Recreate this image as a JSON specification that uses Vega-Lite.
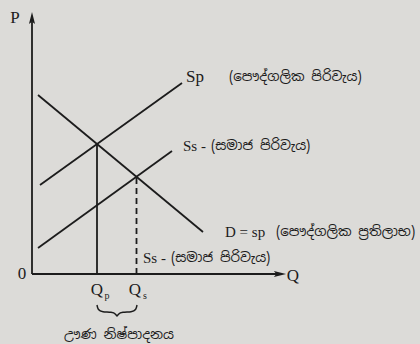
{
  "$schema": "https://vega.github.io/schema/vega-lite/v6.json",
  "width": 420,
  "height": 344,
  "padding": 0,
  "autosize": {"type": "fit", "contains": "padding"},
  "background": "#dcdbd8",
  "config": {"view": {"stroke": null}},
  "datasets": {
    "curves": [
      {"id": "Sp", "ord": 1, "x": 8, "y": 89},
      {"id": "Sp", "ord": 2, "x": 150, "y": 191},
      {"id": "D", "ord": 1, "x": 6, "y": 179},
      {"id": "D", "ord": 2, "x": 171, "y": 42},
      {"id": "Ss", "ord": 1, "x": 6, "y": 26},
      {"id": "Ss", "ord": 2, "x": 140, "y": 123},
      {"id": "Qp", "ord": 1, "x": 65, "y": 0},
      {"id": "Qp", "ord": 2, "x": 65, "y": 130},
      {"id": "Yaxis", "ord": 1, "x": 0, "y": 0},
      {"id": "Yaxis", "ord": 2, "x": 0, "y": 252},
      {"id": "Xaxis", "ord": 1, "x": 0, "y": 0},
      {"id": "Xaxis", "ord": 2, "x": 248, "y": 0}
    ],
    "dashed": [
      {"id": "Qs", "ord": 1, "x": 104.5, "y": 0},
      {"id": "Qs", "ord": 2, "x": 104.5, "y": 97}
    ],
    "brace": [
      {"ord": 1, "x": 65, "y": -31},
      {"ord": 2, "x": 66, "y": -36},
      {"ord": 3, "x": 70, "y": -38},
      {"ord": 4, "x": 80, "y": -38},
      {"ord": 5, "x": 84, "y": -40},
      {"ord": 6, "x": 85, "y": -43},
      {"ord": 7, "x": 86, "y": -40},
      {"ord": 8, "x": 90, "y": -38},
      {"ord": 9, "x": 100, "y": -38},
      {"ord": 10, "x": 104, "y": -36},
      {"ord": 11, "x": 105, "y": -31}
    ],
    "arrowUp": [{"x": 0, "y": 256}],
    "arrowRight": [{"x": 248, "y": 0}],
    "bigLabels": [
      {"label": "P", "x": -17, "y": 256},
      {"label": "0", "x": -10, "y": 0},
      {"label": "Q", "x": 261, "y": -2},
      {"label": "Sp", "x": 163, "y": 197},
      {"label": "Q", "x": 65, "y": -16},
      {"label": "Q", "x": 103, "y": -16}
    ],
    "subs": [
      {"label": "p", "x": 75, "y": -22},
      {"label": "s", "x": 113, "y": -22}
    ],
    "midLabels": [
      {"label": "Ss -", "x": 151, "y": 128},
      {"label": "D = sp", "x": 193, "y": 42},
      {"label": "Ss -", "x": 111, "y": 16}
    ],
    "sinhala": [
      {"label": "(පෞද්ගලික පිරිවැය)", "x": 197, "y": 197},
      {"label": "(සමාජ පිරිවැය)", "x": 179, "y": 128},
      {"label": "(පෞද්ගලික ප්‍රතිලාභ)", "x": 244, "y": 42},
      {"label": "(සමාජ පිරිවැය)", "x": 139, "y": 16},
      {"label": "ඌණ නිෂ්පාදනය", "x": 32, "y": -61}
    ]
  },
  "encoding": {
    "x": {"field": "x", "type": "quantitative", "scale": {"domain": [-32, 388], "nice": false, "zero": false}, "axis": null},
    "y": {"field": "y", "type": "quantitative", "scale": {"domain": [-70, 274], "nice": false, "zero": false}, "axis": null}
  },
  "layer": [
    {
      "data": {"name": "curves"},
      "mark": {"type": "line", "color": "#1c1c1c", "strokeWidth": 1.8},
      "encoding": {"detail": {"field": "id"}, "order": {"field": "ord"}}
    },
    {
      "data": {"name": "dashed"},
      "mark": {"type": "line", "color": "#1c1c1c", "strokeWidth": 1.8, "strokeDash": [6, 4]},
      "encoding": {"detail": {"field": "id"}, "order": {"field": "ord"}}
    },
    {
      "data": {"name": "brace"},
      "mark": {"type": "line", "color": "#1c1c1c", "strokeWidth": 1.5, "interpolate": "basis"},
      "encoding": {"order": {"field": "ord"}}
    },
    {
      "data": {"name": "arrowUp"},
      "mark": {"type": "point", "shape": "M-0.5,1L0,-1L0.5,1L0,0.6Z", "filled": true, "color": "#1c1c1c", "size": 150, "opacity": 1}
    },
    {
      "data": {"name": "arrowRight"},
      "mark": {"type": "point", "shape": "M-1,-0.5L1,0L-1,0.5L-0.6,0Z", "filled": true, "color": "#1c1c1c", "size": 150, "opacity": 1}
    },
    {
      "data": {"name": "bigLabels"},
      "mark": {"type": "text", "font": "Liberation Serif", "fontSize": 17, "color": "#1c1c1c", "baseline": "middle", "align": "center"},
      "encoding": {"text": {"field": "label"}}
    },
    {
      "data": {"name": "subs"},
      "mark": {"type": "text", "font": "Liberation Serif", "fontSize": 10, "color": "#1c1c1c", "baseline": "middle", "align": "center"},
      "encoding": {"text": {"field": "label"}}
    },
    {
      "data": {"name": "midLabels"},
      "mark": {"type": "text", "font": "Liberation Serif", "fontSize": 15, "color": "#1c1c1c", "baseline": "middle", "align": "left"},
      "encoding": {"text": {"field": "label"}}
    },
    {
      "data": {"name": "sinhala"},
      "mark": {"type": "text", "font": "Noto Sans Sinhala, Noto Sans, sans-serif", "fontSize": 13.5, "color": "#1c1c1c", "baseline": "middle", "align": "left"},
      "encoding": {"text": {"field": "label"}}
    }
  ]
}
